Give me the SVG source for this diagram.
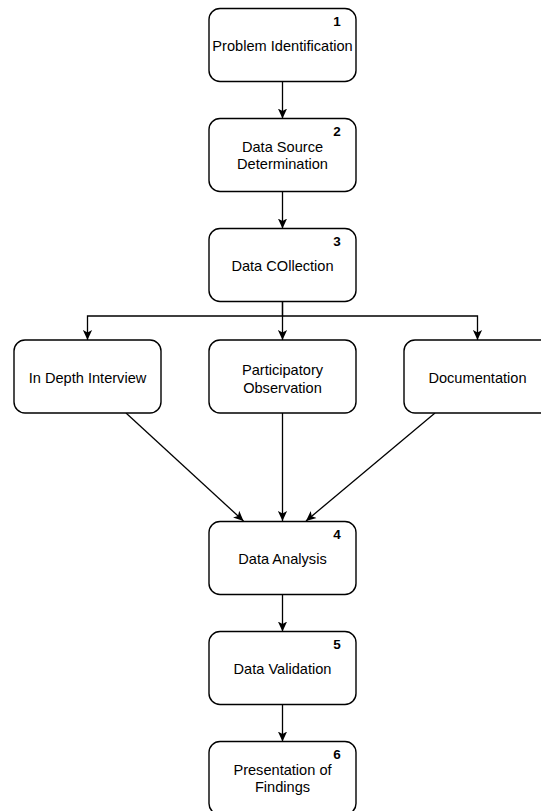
<svg xmlns="http://www.w3.org/2000/svg" width="541" height="811" viewBox="0 0 541 811">
<style>
.box{fill:#fff;stroke:#000;stroke-width:1.4}
.t{font-family:"Liberation Sans",Arial,sans-serif;font-size:14.6px;fill:#000;text-anchor:middle;dominant-baseline:central}
.n{font-family:"Liberation Sans",Arial,sans-serif;font-size:13.5px;font-weight:bold;fill:#000;text-anchor:middle}
.c{fill:none;stroke:#000;stroke-width:1.3}
</style>
<defs>
<marker id="arr" viewBox="0 0 10 10" markerUnits="userSpaceOnUse" markerWidth="10" markerHeight="10" refX="10" refY="5" orient="auto">
<path d="M0,0.4 L10,5 L0,9.6 L2.5,5 z" fill="#000"/>
</marker>
</defs>
<rect width="541" height="811" fill="#fff"/>
<g id="connectors">
<path class="c" d="M282.5,81.5 V118.5" marker-end="url(#arr)"/>
<path class="c" d="M282.5,191.5 V228.5" marker-end="url(#arr)"/>
<path class="c" d="M282.5,301.5 V316 H87.5 V340" marker-end="url(#arr)"/>
<path class="c" d="M282.5,301.5 V340" marker-end="url(#arr)"/>
<path class="c" d="M282.5,316 H477.5 V340" marker-end="url(#arr)"/>
<path class="c" d="M126,413 L243.5,521" marker-end="url(#arr)"/>
<path class="c" d="M282.5,413 V521" marker-end="url(#arr)"/>
<path class="c" d="M435,413 L306,521" marker-end="url(#arr)"/>
<path class="c" d="M282.5,594.5 V631.5" marker-end="url(#arr)"/>
<path class="c" d="M282.5,704.5 V741.5" marker-end="url(#arr)"/>
</g>
<g id="node1">
<rect class="box" x="209" y="8.5" width="147" height="73" rx="11"/>
<text class="t" x="282.5" y="46">Problem Identification</text>
<text class="n" x="337" y="26">1</text>
</g>
<g id="node2">
<rect class="box" x="209" y="118.5" width="147" height="73" rx="11"/>
<text class="t" x="282.5" y="146.5">Data Source</text>
<text class="t" x="282.5" y="164">Determination</text>
<text class="n" x="337" y="136">2</text>
</g>
<g id="node3">
<rect class="box" x="209" y="228.5" width="147" height="73" rx="11"/>
<text class="t" x="282.5" y="266">Data COllection</text>
<text class="n" x="337" y="246">3</text>
</g>
<g id="interview">
<rect class="box" x="14" y="340" width="147" height="73" rx="11"/>
<text class="t" x="87.5" y="378">In Depth Interview</text>
</g>
<g id="observation">
<rect class="box" x="209" y="340" width="147" height="73" rx="11"/>
<text class="t" x="282.5" y="369.5">Participatory</text>
<text class="t" x="282.5" y="387.5">Observation</text>
</g>
<g id="documentation">
<rect class="box" x="404" y="340" width="147" height="73" rx="11"/>
<text class="t" x="477.5" y="378">Documentation</text>
</g>
<g id="node4">
<rect class="box" x="209" y="521.5" width="147" height="73" rx="11"/>
<text class="t" x="282.5" y="558.5">Data Analysis</text>
<text class="n" x="337" y="538.5">4</text>
</g>
<g id="node5">
<rect class="box" x="209" y="631.5" width="147" height="73" rx="11"/>
<text class="t" x="282.5" y="668.5">Data Validation</text>
<text class="n" x="337" y="648.5">5</text>
</g>
<g id="node6">
<rect class="box" x="209" y="741.5" width="147" height="73" rx="11"/>
<text class="t" x="282.5" y="769.5">Presentation of</text>
<text class="t" x="282.5" y="787">Findings</text>
<text class="n" x="337" y="758.5">6</text>
</g>
</svg>
